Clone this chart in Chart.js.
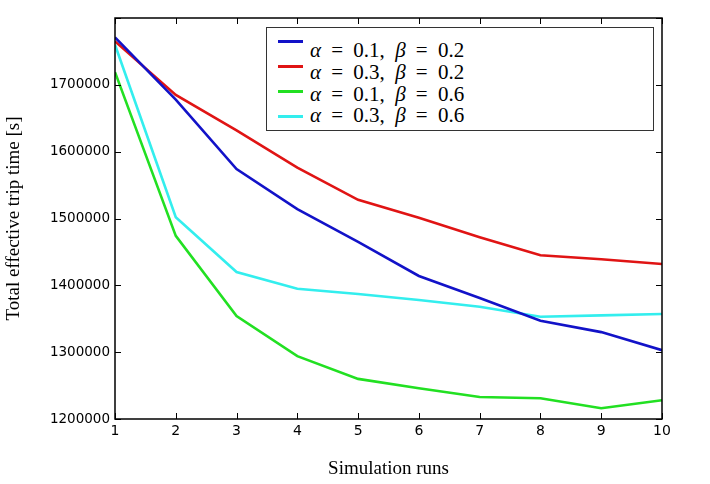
<!DOCTYPE html>
<html>
<head>
<meta charset="utf-8">
<script src="https://cdn.jsdelivr.net/npm/chart.js@4.4.0/dist/chart.umd.min.js"></script>
<style>
html,body{margin:0;padding:0;background:#fff;}
#wrap{position:relative;width:710px;height:484px;}
#legend{position:absolute;left:266px;top:27px;width:388px;height:104px;border:1.5px solid #333;background:#fff;box-sizing:border-box;font-family:"Liberation Serif","DejaVu Serif",serif;font-size:21px;color:#000;}
.sw{position:absolute;left:11px;width:25px;height:3px;}
.tx{position:absolute;left:43px;white-space:nowrap;line-height:22px;height:22px;word-spacing:5px;}
</style>
</head>
<body>
<div id="wrap">
<canvas id="c" width="710" height="484"></canvas>
<div id="legend"></div>
</div>
<script>
const categories = [1,2,3,4,5,6,7,8,9,10];
const labelsSeries = ["α = 0.1, β = 0.2","α = 0.3, β = 0.2","α = 0.1, β = 0.6","α = 0.3, β = 0.6"];
const blueA01B02 = [1771000,1678000,1574000,1514000,1465000,1414000,1381000,1347000,1330000,1303000];
const redA03B02  = [1765000,1685000,1632000,1576000,1528000,1501000,1472000,1445000,1439000,1432000];
const greenA01B06= [1719000,1474000,1354000,1294000,1260000,1246000,1233000,1231000,1216000,1228000];
const cyanA03B06 = [1760000,1502000,1420000,1395000,1387000,1378000,1368000,1353000,1355000,1357000];
const yTicks = [1200000,1300000,1400000,1500000,1600000,1700000,1800000];
const colors = ["#1212c8","#e01414","#22e022","#33eeee"];
const series = [blueA01B02, redA03B02, greenA01B06, cyanA03B06];

// legend (HTML, real text)
const leg = document.getElementById('legend');
const lineY = [12, 37, 62, 87];
const textY = [11, 33, 55, 76];
labelsSeries.forEach((t,i)=>{
  const sw = document.createElement('div');
  sw.className='sw'; sw.style.top = lineY[i]+'px'; sw.style.background = colors[i];
  leg.appendChild(sw);
  const tx = document.createElement('div');
  tx.className='tx'; tx.style.top = textY[i]+'px';
  tx.innerHTML = t.split(/(α|β)/).map(p => (p==='α'||p==='β') ? '<i>'+p+'</i>' : p).join('');
  leg.appendChild(tx);
});

const tickPlugin = {
  id:'inTicks',
  afterDraw(chart){
    const {ctx, chartArea:a, scales:{x,y}} = chart;
    ctx.save();
    ctx.strokeStyle='#000'; ctx.lineWidth=1;
    ctx.beginPath();
    categories.forEach(v=>{
      const px = Math.round(x.getPixelForValue(v))+0.5;
      ctx.moveTo(px,a.bottom); ctx.lineTo(px,a.bottom-6);
      ctx.moveTo(px,a.top); ctx.lineTo(px,a.top+6);
    });
    yTicks.forEach(v=>{
      const py = Math.round(y.getPixelForValue(v))+0.5;
      ctx.moveTo(a.left,py); ctx.lineTo(a.left+6,py);
      ctx.moveTo(a.right,py); ctx.lineTo(a.right-6,py);
    });
    ctx.stroke();
    ctx.lineWidth=1.5;
    ctx.strokeRect(a.left,a.top,a.right-a.left,a.bottom-a.top);
    ctx.restore();
  }
};

new Chart(document.getElementById('c'),{
  type:'line',
  data:{
    datasets: series.map((d,i)=>({
      label: labelsSeries[i],
      data: d.map((v,k)=>({x:categories[k], y:v})),
      borderColor: colors[i],
      backgroundColor: colors[i],
      borderWidth: 2.6,
      pointRadius: 0,
      tension: 0,
      fill:false
    }))
  },
  options:{
    responsive:false,
    animation:false,
    layout:{padding:{top:18,right:48,left:0,bottom:0}},
    plugins:{legend:{display:false},tooltip:{enabled:false}},
    scales:{
      x:{
        type:'linear', min:1, max:10,
        afterBuildTicks(s){ s.ticks = categories.map(v=>({value:v})); },
        afterFit(s){ s.height = 65; },
        grid:{display:false, drawTicks:false},
        border:{display:false},
        ticks:{color:'#000', padding:4, font:{family:'DejaVu Sans', size:14}, maxRotation:0, autoSkip:false},
        title:{display:true, text:'Simulation runs', color:'#000', font:{family:'Liberation Serif', size:19}, padding:{top:0,bottom:4}}
      },
      y:{
        type:'linear', min:1200000, max:1800000,
        afterBuildTicks(s){ s.ticks = yTicks.map(v=>({value:v})); },
        afterFit(s){ s.width = 115; },
        grid:{display:false, drawTicks:false},
        border:{display:false},
        ticks:{color:'#000', padding:5, font:{family:'DejaVu Sans', size:13.5},
          callback:(v)=> v===1800000 ? '' : String(v)},
        title:{display:true, text:'Total effective trip time [s]', color:'#000', font:{family:'Liberation Serif', size:19}, padding:{top:3,bottom:0}}
      }
    }
  },
  plugins:[tickPlugin]
});
</script>
</body>
</html>
